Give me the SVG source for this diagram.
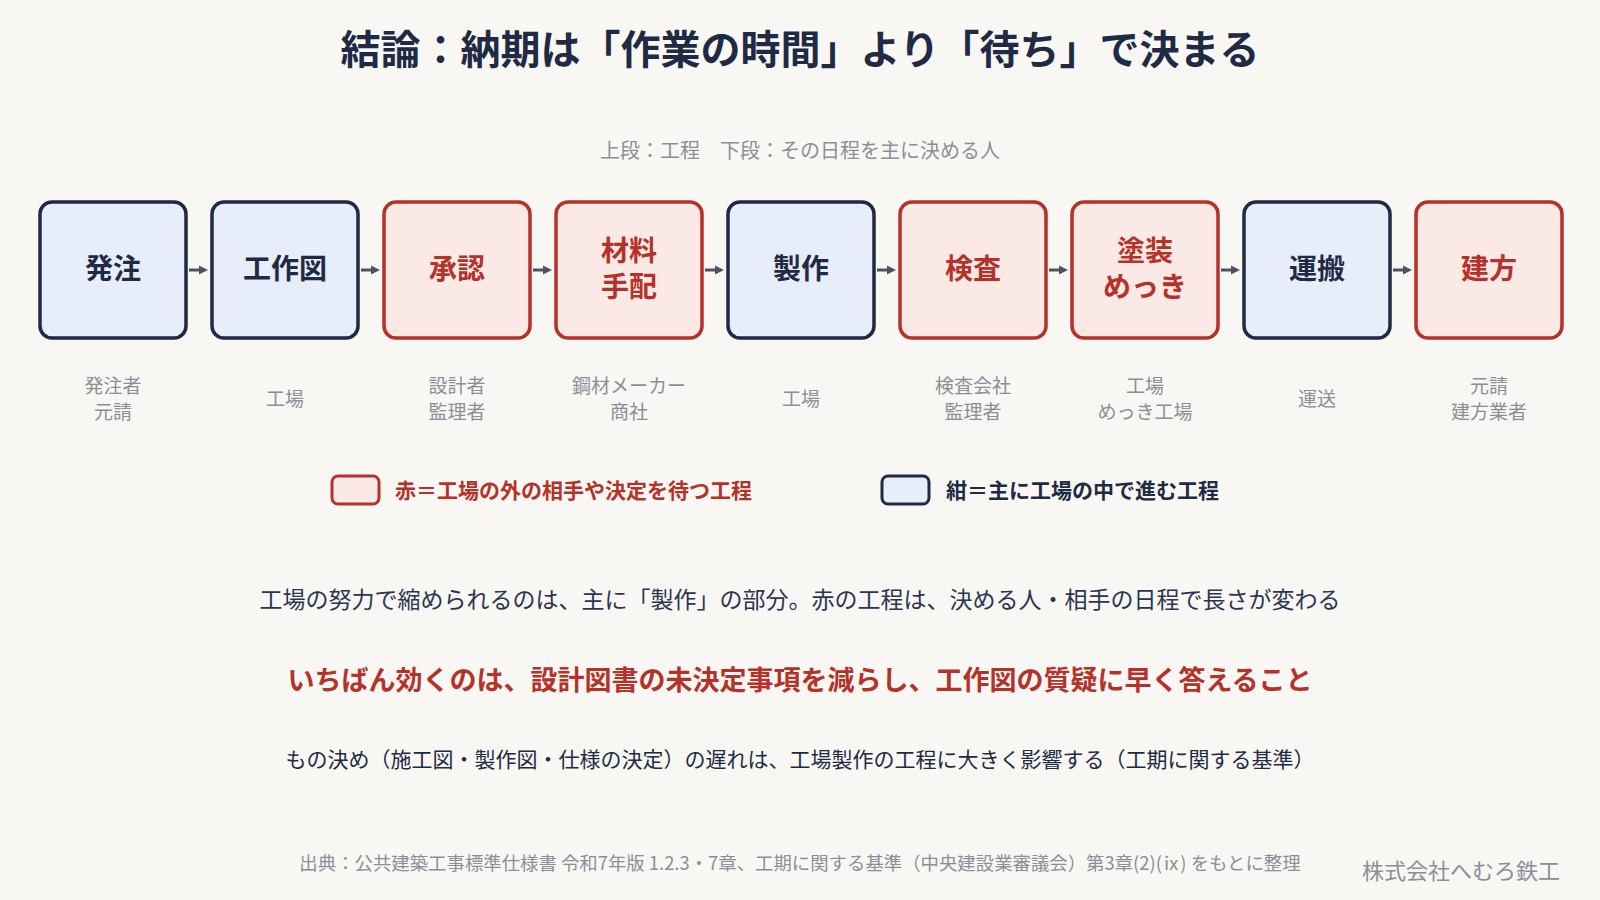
<svg xmlns="http://www.w3.org/2000/svg" width="1600" height="900" viewBox="0 0 1600 900">
<style>
text{font-family:"Noto Sans CJK JP","Noto Sans",sans-serif;dominant-baseline:central}
.title{font-size:40px;font-weight:700;fill:#1f2a44;text-anchor:middle}
.sub{font-size:20px;fill:#8a8f98;text-anchor:middle}
.navy rect{fill:#e8eef9;stroke:#1f2a44;stroke-width:3.5}
.red rect{fill:#fbe9e5;stroke:#b5322a;stroke-width:3.5}
.navy text.nt,.navy text.lg{fill:#1f2a44}
.red text.nt,.red text.lg{fill:#b5322a}
.nt{font-size:28px;font-weight:700;text-anchor:middle}
text.lb{font-size:19px;fill:#8a8f98;text-anchor:middle}
.conn path{stroke:#4a5263;stroke-width:3;fill:none}
.lg{font-size:21px;font-weight:700}
.body{font-size:23px;fill:#2b3550;text-anchor:middle}
.key{font-size:27px;font-weight:700;fill:#b5322a;text-anchor:middle}
.body2{font-size:21px;fill:#1f2a44;text-anchor:middle}
.foot{font-size:18.4px;fill:#8a8f98;text-anchor:middle}
.co{font-size:22px;fill:#8a8f98;text-anchor:end}
</style>
<defs>
<marker id="ah" markerUnits="userSpaceOnUse" markerWidth="10" markerHeight="10" refX="1" refY="5" orient="auto">
<path d="M0,0.5 L9,5 L0,9.5 z" fill="#4a5263"/>
</marker>
</defs>
<rect width="1600" height="900" fill="#f8f7f3"/>
<text class="title" x="800" y="47">結論：納期は「作業の時間」より「待ち」で決まる</text>
<text class="sub" x="800" y="149">上段：工程　下段：その日程を主に決める人</text>

<g class="conn">
<path d="M189,270 H200" marker-end="url(#ah)"/>
<path d="M361,270 H372" marker-end="url(#ah)"/>
<path d="M533,270 H544" marker-end="url(#ah)"/>
<path d="M705,270 H716" marker-end="url(#ah)"/>
<path d="M877,270 H888" marker-end="url(#ah)"/>
<path d="M1049,270 H1060" marker-end="url(#ah)"/>
<path d="M1221,270 H1232" marker-end="url(#ah)"/>
<path d="M1393,270 H1404" marker-end="url(#ah)"/>
</g>

<g id="n1" class="navy"><rect x="40" y="202" width="146" height="136" rx="12"/><text class="nt" x="113" y="267">発注</text><text class="lb" x="113" y="384.5">発注者<tspan x="113" dy="25">元請</tspan></text></g>
<g id="n2" class="navy"><rect x="212" y="202" width="146" height="136" rx="12"/><text class="nt" x="285" y="267">工作図</text><text class="lb" x="285" y="397.5">工場</text></g>
<g id="n3" class="red"><rect x="384" y="202" width="146" height="136" rx="12"/><text class="nt" x="457" y="267">承認</text><text class="lb" x="457" y="384.5">設計者<tspan x="457" dy="25">監理者</tspan></text></g>
<g id="n4" class="red"><rect x="556" y="202" width="146" height="136" rx="12"/><text class="nt" x="629" y="249">材料<tspan x="629" dy="36">手配</tspan></text><text class="lb" x="629" y="384.5">鋼材メーカー<tspan x="629" dy="25">商社</tspan></text></g>
<g id="n5" class="navy"><rect x="728" y="202" width="146" height="136" rx="12"/><text class="nt" x="801" y="267">製作</text><text class="lb" x="801" y="397.5">工場</text></g>
<g id="n6" class="red"><rect x="900" y="202" width="146" height="136" rx="12"/><text class="nt" x="973" y="267">検査</text><text class="lb" x="973" y="384.5">検査会社<tspan x="973" dy="25">監理者</tspan></text></g>
<g id="n7" class="red"><rect x="1072" y="202" width="146" height="136" rx="12"/><text class="nt" x="1145" y="249">塗装<tspan x="1145" dy="36">めっき</tspan></text><text class="lb" x="1145" y="384.5">工場<tspan x="1145" dy="25">めっき工場</tspan></text></g>
<g id="n8" class="navy"><rect x="1244" y="202" width="146" height="136" rx="12"/><text class="nt" x="1317" y="267">運搬</text><text class="lb" x="1317" y="397.5">運送</text></g>
<g id="n9" class="red"><rect x="1416" y="202" width="146" height="136" rx="12"/><text class="nt" x="1489" y="267">建方</text><text class="lb" x="1489" y="384.5">元請<tspan x="1489" dy="25">建方業者</tspan></text></g>

<g id="legend-red" class="red"><rect x="332" y="476" width="47" height="28" rx="6" style="stroke-width:3"/><text class="lg" x="395" y="489">赤＝工場の外の相手や決定を待つ工程</text></g>
<g id="legend-navy" class="navy"><rect x="882" y="476" width="47" height="28" rx="6" style="stroke-width:3"/><text class="lg" x="946" y="489">紺＝主に工場の中で進む工程</text></g>

<text class="body" x="800" y="598">工場の努力で縮められるのは、主に「製作」の部分。赤の工程は、決める人・相手の日程で長さが変わる</text>
<text class="key" x="800" y="678">いちばん効くのは、設計図書の未決定事項を減らし、工作図の質疑に早く答えること</text>
<text class="body2" x="800" y="758">もの決め（施工図・製作図・仕様の決定）の遅れは、工場製作の工程に大きく影響する（工期に関する基準）</text>
<text class="foot" x="800" y="862">出典：公共建築工事標準仕様書 令和7年版 1.2.3・7章、工期に関する基準（中央建設業審議会）第3章(2)(ⅸ) をもとに整理</text>
<text class="co" x="1560" y="869">株式会社へむろ鉄工</text>
</svg>
